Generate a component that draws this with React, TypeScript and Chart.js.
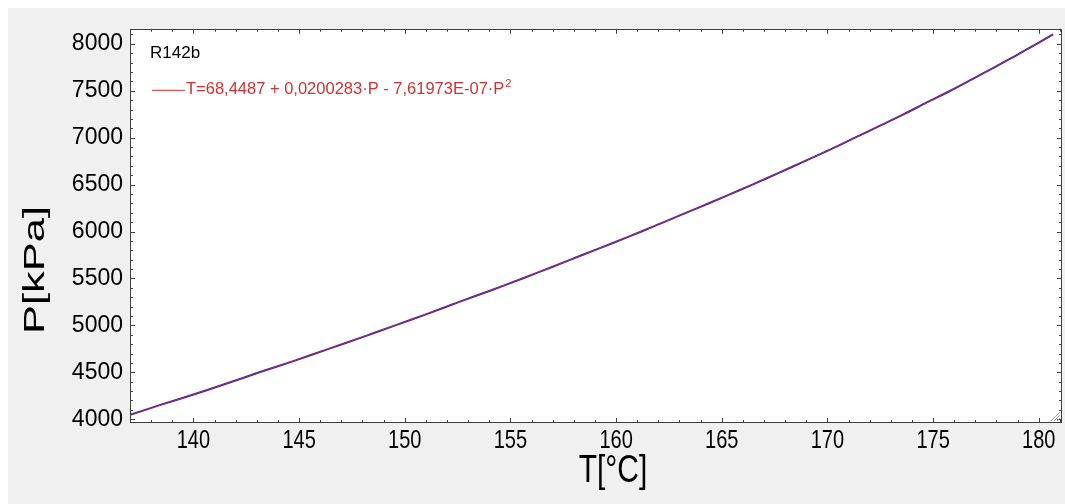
import { useEffect, useRef } from "react";
import { Chart, registerables } from "chart.js";

Chart.register(...registerables);

// ---- data ----
const seriesName = "R142b";
const fitText = "T=68,4487 + 0,0200283·P - 7,61973E-07·P";
const fitExponent = "2";
const xTitle = "T[°C]";
const yTitle = "P[kPa]";

const measuredT = [137.05, 138.40, 139.82, 141.50, 143.12, 144.80, 146.40, 148.00, 149.55, 151.10, 152.58, 154.10, 155.57, 157.00, 158.40, 159.82, 161.20, 162.52, 163.85, 165.16, 166.45, 167.70, 168.93, 170.15, 171.30, 172.47, 173.62, 174.70, 175.81, 176.86, 177.90, 178.92, 179.90, 180.68];
const measuredP = [4050, 4150, 4250, 4375, 4500, 4625, 4750, 4875, 5000, 5125, 5250, 5375, 5500, 5625, 5750, 5875, 6000, 6125, 6250, 6375, 6500, 6625, 6750, 6875, 7000, 7125, 7250, 7375, 7500, 7625, 7750, 7875, 8000, 8100];

const fitT = [137.07, 139.81, 143.15, 146.39, 149.54, 152.60, 155.56, 158.42, 161.19, 163.86, 166.44, 168.92, 171.31, 173.60, 175.80, 177.90, 179.91, 180.69];
const fitP = [4050, 4250, 4500, 4750, 5000, 5250, 5500, 5750, 6000, 6250, 6500, 6750, 7000, 7250, 7500, 7750, 8000, 8100];

const xTickValues = [140, 145, 150, 155, 160, 165, 170, 175, 180];
const yTickValues = [4000, 4500, 5000, 5500, 6000, 6500, 7000, 7500, 8000];
const xMin = 137;
const xMax = 181.1;
const yMin = 3960;
const yMax = 8160;
const xMinorStep = 1;
const yMinorStep = 100;

const W = 1057;
const H = 496;
const FONT = "'Liberation Sans', Arial, sans-serif";

const framePlugin = {
  id: "frame",
  beforeDraw(chart: any) {
    const { ctx, chartArea: a } = chart;
    ctx.save();
    ctx.fillStyle = "#f0f0f0";
    ctx.fillRect(0, 0, chart.width, chart.height);
    ctx.fillStyle = "#ffffff";
    ctx.fillRect(a.left, a.top, a.right - a.left, a.bottom - a.top);
    ctx.restore();
  },
  afterDraw(chart: any) {
    const { ctx, chartArea: a, scales } = chart;
    const xs = scales.x;
    const ys = scales.y;
    ctx.save();
    ctx.strokeStyle = "#404040";
    ctx.lineWidth = 1;
    ctx.strokeRect(Math.round(a.left) + 0.5, Math.round(a.top) + 0.5, Math.round(a.right - a.left) - 1, Math.round(a.bottom - a.top) - 1);

    ctx.beginPath();
    for (let v = Math.ceil(xMin / xMinorStep) * xMinorStep; v <= xMax; v += xMinorStep) {
      const major = xTickValues.includes(Math.round(v));
      const len = major ? 5 : 3;
      const px = Math.round(xs.getPixelForValue(v)) + 0.5;
      ctx.moveTo(px, a.bottom);
      ctx.lineTo(px, a.bottom - len);
      ctx.moveTo(px, a.top);
      ctx.lineTo(px, a.top + len);
    }
    for (let v = Math.ceil(yMin / yMinorStep) * yMinorStep; v <= yMax; v += yMinorStep) {
      const major = yTickValues.includes(Math.round(v));
      const len = major ? 5 : 3;
      const py = Math.round(ys.getPixelForValue(v)) + 0.5;
      ctx.moveTo(a.left, py);
      ctx.lineTo(a.left + len, py);
      ctx.moveTo(a.right, py);
      ctx.lineTo(a.right - len, py);
    }
    ctx.stroke();

    // resize grip
    ctx.strokeStyle = "#a0a0a0";
    ctx.beginPath();
    for (let i = 0; i < 3; i++) {
      const o = 3 + i * 3;
      ctx.moveTo(a.right - 2 - o, a.bottom - 2);
      ctx.lineTo(a.right - 2, a.bottom - 2 - o);
    }
    ctx.stroke();

    // x tick labels (slightly tall glyphs as in the reference)
    ctx.fillStyle = "#000000";
    ctx.textAlign = "center";
    ctx.textBaseline = "middle";
    ctx.font = `20px ${FONT}`;
    xTickValues.forEach((v) => {
      const px = xs.getPixelForValue(v);
      ctx.save();
      ctx.translate(px, a.bottom + 18);
      ctx.scale(1, 1.25);
      ctx.fillText(String(v), 0, 0);
      ctx.restore();
    });

    // legend
    ctx.textAlign = "left";
    ctx.fillStyle = "#000000";
    ctx.font = `17px ${FONT}`;
    ctx.fillText(seriesName, a.left + 20, a.top + 25);

    const ly = a.top + 61;
    ctx.strokeStyle = "#d03030";
    ctx.beginPath();
    ctx.moveTo(a.left + 22, ly + 0.5);
    ctx.lineTo(a.left + 55, ly + 0.5);
    ctx.stroke();
    ctx.fillStyle = "#d03030";
    ctx.font = `16.5px ${FONT}`;
    ctx.fillText(fitText, a.left + 56, ly);
    const tw = ctx.measureText(fitText).width;
    ctx.font = `11px ${FONT}`;
    ctx.fillText(fitExponent, a.left + 57 + tw, ly - 6);

    // axis titles
    ctx.fillStyle = "#000000";
    ctx.font = `30px ${FONT}`;
    ctx.textAlign = "center";
    ctx.save();
    ctx.translate(605, 463);
    ctx.scale(1, 1.3);
    ctx.fillText(xTitle, 0, 0);
    ctx.restore();
    ctx.save();
    ctx.translate(28, 262);
    ctx.rotate(-Math.PI / 2);
    ctx.scale(1.45, 1);
    ctx.fillText(yTitle, 0, 0);
    ctx.restore();
    ctx.restore();
  },
};

export default function App() {
  const ref = useRef<HTMLCanvasElement | null>(null);
  useEffect(() => {
    if (!ref.current) return;
    const chart = new Chart(ref.current, {
      type: "line",
      data: {
        datasets: [
          {
            label: seriesName,
            data: measuredT.map((t, i) => ({ x: t, y: measuredP[i] })),
            borderColor: "#3420a0",
            borderWidth: 2,
            pointRadius: 0,
            tension: 0.3,
            order: 2,
          },
          {
            label: fitText + fitExponent,
            data: fitT.map((t, i) => ({ x: t, y: fitP[i] })),
            borderColor: "rgba(230,60,60,0.6)",
            borderWidth: 1,
            pointRadius: 0,
            tension: 0.3,
            order: 1,
          },
        ],
      },
      options: {
        animation: false,
        responsive: false,
        devicePixelRatio: 1,
        layout: { padding: { left: 0, right: 3, top: 18, bottom: 0 } },
        plugins: { legend: { display: false }, tooltip: { enabled: false } },
        scales: {
          x: {
            type: "linear",
            min: xMin,
            max: xMax,
            grid: { display: false, drawTicks: false },
            border: { display: false },
            afterFit: (s: any) => {
              s.height = 81;
            },
            afterBuildTicks: (s: any) => {
              s.ticks = xTickValues.map((v) => ({ value: v }));
            },
            ticks: { display: false },
          },
          y: {
            type: "linear",
            min: yMin,
            max: yMax,
            grid: { display: false, drawTicks: false },
            border: { display: false },
            afterFit: (s: any) => {
              s.width = 122;
            },
            afterBuildTicks: (s: any) => {
              s.ticks = yTickValues.map((v) => ({ value: v }));
            },
            ticks: {
              padding: 7,
              color: "#000",
              font: { family: FONT, size: 23 },
              autoSkip: false,
              callback: (v: any) => String(v),
            },
          },
        },
      },
      plugins: [framePlugin],
    });
    return () => chart.destroy();
  }, []);
  return (
    <div style={{ position: "absolute", left: 8, top: 8, width: W, height: H, background: "#f0f0f0" }}>
      <canvas ref={ref} width={W} height={H} style={{ display: "block", width: W, height: H }} />
    </div>
  );
}
